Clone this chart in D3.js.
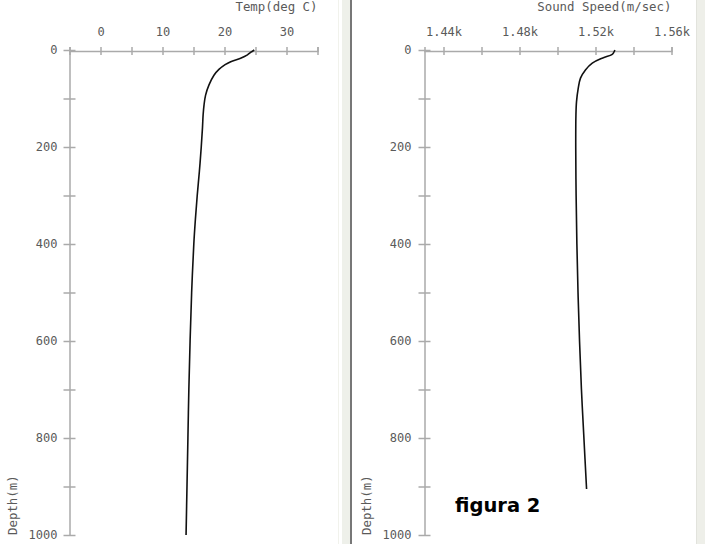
<!DOCTYPE html>
<html><head><meta charset="utf-8">
<script src="https://cdn.jsdelivr.net/npm/d3@7"></script>
<style>
html,body{margin:0;padding:0;background:#fff;}
svg{display:block;}
.ax text{font-family:"DejaVu Sans Mono",monospace;font-size:12px;fill:#5a5a5a;}
.ax line,.ax path{stroke:#aaa;stroke-width:1.5;}
.lbl{font-family:"DejaVu Sans Mono",monospace;font-size:12.4px;fill:#5a5a5a;}
</style></head>
<body>
<script>
// ---- data ----
const tempDepth = [0, 5, 10, 17, 24, 30, 40, 52, 72, 93, 113, 134, 160, 200, 250, 300, 350, 400, 500, 600, 700, 800, 900, 1000];
const tempValues = [24.8, 24.2, 23.7, 22.6, 21.0, 20.1, 19.1, 18.3, 17.5, 16.95, 16.7, 16.55, 16.45, 16.25, 15.95, 15.6, 15.3, 15.05, 14.7, 14.45, 14.25, 14.1, 13.95, 13.8];
const speedDepth = [0, 5, 9, 17, 27, 41, 58, 79, 107, 134, 200, 300, 400, 500, 600, 700, 800, 905];
const speedValues = [1530.2, 1529.6, 1528.8, 1523.5, 1518.3, 1514.7, 1512.1, 1510.9, 1510.0, 1509.7, 1509.6, 1509.8, 1510.2, 1510.8, 1511.6, 1512.6, 1513.9, 1515.3];
const depthTicks = [0, 100, 200, 300, 400, 500, 600, 700, 800, 900, 1000];
const depthLabels = [0, 200, 400, 600, 800, 1000];
const tempTicks = [-5, 0, 5, 10, 15, 20, 25, 30, 35];
const tempLabels = [0, 10, 20, 30];
const speedTicks = [1440, 1460, 1480, 1500, 1520, 1540, 1560];
const speedLabels = [1440, 1480, 1520, 1560];
const tempTitle = "Temp(deg C)";
const speedTitle = "Sound Speed(m/sec)";
const depthTitle = "Depth(m)";
const figLabel = "figura 2";

const W = 705, H = 544;
const svg = d3.select("body").append("svg").attr("width", W).attr("height", H);

// panel separators / frame
svg.append("line").attr("x1", 338.5).attr("x2", 338.5).attr("y1", 0).attr("y2", H).attr("stroke", "#f1f2ec");
svg.append("rect").attr("x", 342).attr("y", 0).attr("width", 8).attr("height", H).attr("fill", "#eef0ea");
svg.append("rect").attr("x", 350).attr("y", 0).attr("width", 2).attr("height", H).attr("fill", "#777");
svg.append("line").attr("x1", 696.5).attr("x2", 696.5).attr("y1", 0).attr("y2", H).attr("stroke", "#e2e3dd");
svg.append("rect").attr("x", 697).attr("y", 0).attr("width", 8).attr("height", H).attr("fill", "#eeefe9");

const y = d3.scaleLinear().domain([0, 1000]).range([50, 535]);

function panel(cfg) {
  const x = d3.scaleLinear().domain(cfg.domain).range(cfg.range);
  const g = svg.append("g");
  // y axis
  const ya = g.append("g").attr("class", "ax").attr("transform", `translate(${cfg.range[0]},0)`)
    .call(d3.axisLeft(y).tickValues(depthTicks).tickSizeOuter(0).tickSize(6).tickPadding(cfg.yPad)
      .tickFormat(d => depthLabels.includes(d) ? d : ""));
  ya.selectAll(".tick line").attr("x1", 6).attr("x2", -6);
  ya.select(".domain").attr("d", `M0.5,${y(0)}V${y(1000)}`);
  // x axis
  const xa = g.append("g").attr("class", "ax").attr("transform", `translate(0,${y(0) + 1})`)
    .call(d3.axisTop(x).tickValues(cfg.ticks).tickSizeOuter(0).tickSize(4).tickPadding(11)
      .tickFormat(d => cfg.labels.includes(d) ? cfg.fmt(d) : ""));
  xa.selectAll(".tick line").attr("y1", 4).attr("y2", -4);
  // titles
  g.append("text").attr("class", "lbl").attr("x", cfg.range[1]).attr("y", 11)
    .attr("text-anchor", "end").text(cfg.title);
  g.append("text").attr("class", "lbl").attr("transform", "rotate(-90)")
    .attr("x", -535).attr("y", cfg.dx).attr("text-anchor", "start").text(depthTitle);
  // line
  const pts = cfg.depth.map((d, i) => [cfg.values[i], d]);
  g.append("path").datum(pts)
    .attr("d", d3.line().x(p => x(p[0])).y(p => y(p[1])).curve(d3.curveCatmullRom.alpha(0.5)))
    .attr("fill", "none").attr("stroke", "#111").attr("stroke-width", 1.6);
}

panel({domain: [-5, 35], range: [69.5, 317.5], ticks: tempTicks, labels: tempLabels, fmt: d => d,
  title: tempTitle, depth: tempDepth, values: tempValues, yPad: 6, dx: 17});
panel({domain: [1430, 1560], range: [424.5, 671.5], ticks: speedTicks, labels: speedLabels, fmt: d3.format(".3s"),
  title: speedTitle, depth: speedDepth, values: speedValues, yPad: 7, dx: 371});

svg.append("text").attr("x", 455).attr("y", 512)
  .attr("font-family", "DejaVu Sans").attr("font-weight", "bold").attr("font-size", 19.5)
  .attr("fill", "#000").text(figLabel);
</script>
</body></html>
